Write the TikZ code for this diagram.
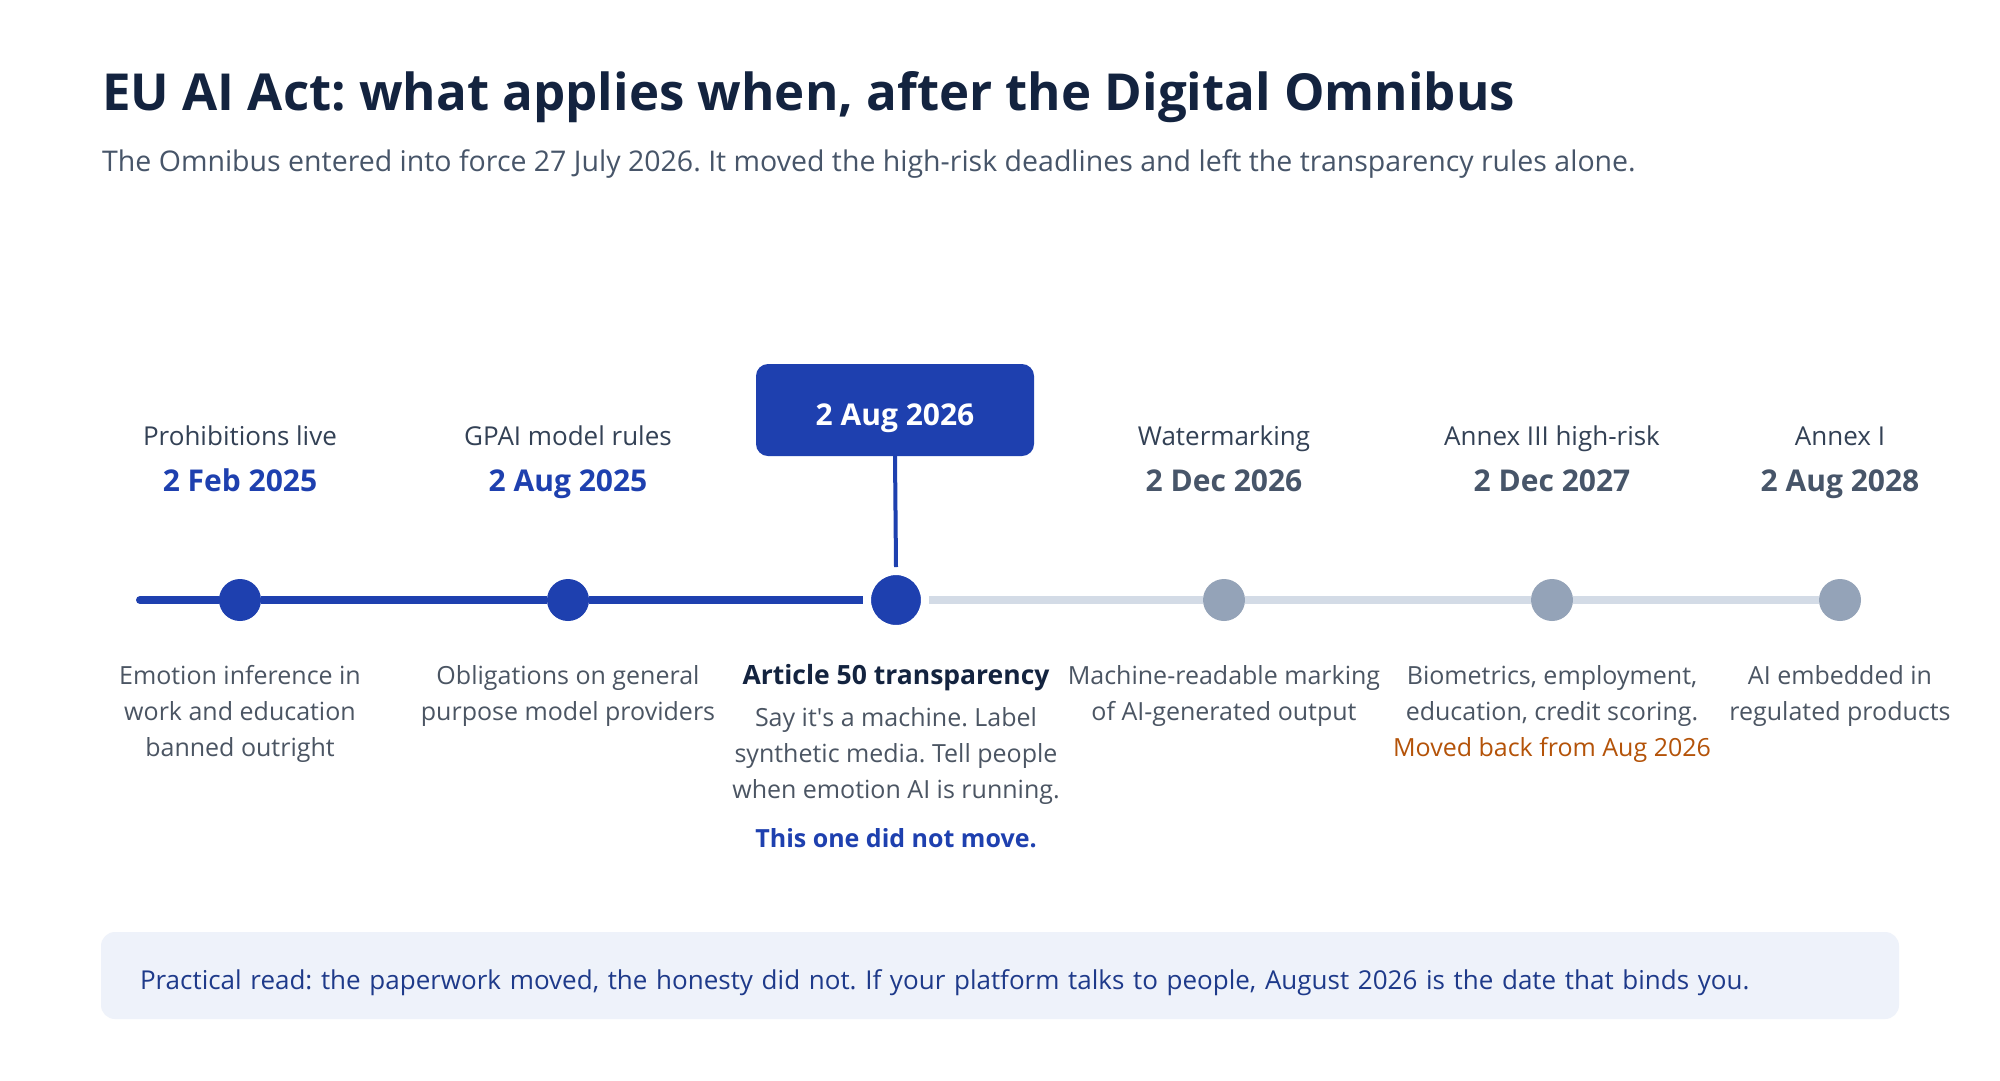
\documentclass[tikz,border=0pt]{standalone}
\usepackage{fontspec}
\setmainfont{Open Sans}
\definecolor{actblue}{HTML}{1E40AF}
\definecolor{actnavy}{HTML}{13233F}
\definecolor{actink}{HTML}{1E3A8A}
\definecolor{slatetext}{HTML}{4B5563}
\definecolor{slatelabel}{HTML}{334155}
\definecolor{slatedate}{HTML}{475569}
\definecolor{slatedot}{HTML}{94A3B8}
\definecolor{slateline}{HTML}{D3DBE6}
\definecolor{moved}{HTML}{B45309}
\definecolor{notebg}{HTML}{EEF2FA}
\usetikzlibrary{positioning}
\newcommand{\fsz}[2]{\fontsize{#1}{#2}\selectfont}
\frenchspacing

\begin{document}
\begin{tikzpicture}[x=1pt, y=-1pt,
  toplabel/.style={anchor=base, inner sep=0, font=\fsz{26}{36}, text=slatelabel},
  datedone/.style={anchor=base, inner sep=0, font=\fsz{30}{36}\bfseries, text=actblue},
  datelater/.style={datedone, text=slatedate},
  desc/.style={anchor=base, inner sep=0, font=\fsz{25}{36}, text=slatetext, align=center},
  smalldot/.style={circle, inner sep=0, minimum size=42},
  bigdot/.style={circle, inner sep=0, minimum size=58, fill=actblue, draw=white, line width=8},
  track/.style={line width=8}]
\useasboundingbox (0,0) rectangle (2000,1080);
\fill[white] (0,0) rectangle (2000,1080);

% heading
\node[anchor=base west, inner sep=0, font=\fsz{51}{60}\bfseries, text=actnavy] (title) at (102,110)
  {EU AI Act: what applies when, after the Digital Omnibus};
\node[anchor=base west, inner sep=0, font=\fsz{28.5}{34}, text=slatedate] (subtitle) at (102,171)
  {The Omnibus entered into force 27 July 2026. It moved the high-risk deadlines and left the transparency rules alone.};

% timeline
\coordinate (tstart) at (140,600);
\node[smalldot, fill=actblue] (prohib) at (240,600) {};
\node[smalldot, fill=actblue] (gpai) at (568,600) {};
\node[bigdot] (art50) at (896,600) {};
\node[smalldot, fill=slatedot] (water) at (1224,600) {};
\node[smalldot, fill=slatedot] (annex3) at (1552,600) {};
\node[smalldot, fill=slatedot] (annex1) at (1840,600) {};

\draw[track, actblue, line cap=round] (tstart) -- (prohib);
\draw[track, actblue] (prohib) -- (gpai) -- (art50);
\draw[track, slateline] (art50) -- (water) -- (annex3) -- (annex1);

% the date that did not move
\node[fill=actblue, rounded corners=12, minimum width=278, minimum height=92, inner sep=0,
      text height=30, text depth=0, text=white, font=\fsz{30}{36}\bfseries] (nowbox) at (895,410) {2 Aug 2026};
\draw[actblue, line width=4] (nowbox.south) -- (art50.north);

% labels above
\node[toplabel] (prohibname) at (240,445) {Prohibitions live};
\node[datedone] (prohibdate) at (240,491) {2 Feb 2025};
\node[toplabel] (gpainame) at (568,445) {GPAI model rules};
\node[datedone] (gpaidate) at (568,491) {2 Aug 2025};
\node[toplabel] (watername) at (1224,445) {Watermarking};
\node[datelater] (waterdate) at (1224,491) {2 Dec 2026};
\node[toplabel] (annex3name) at (1552,445) {Annex III high-risk};
\node[datelater] (annex3date) at (1552,491) {2 Dec 2027};
\node[toplabel] (annex1name) at (1840,445) {Annex I};
\node[datelater] (annex1date) at (1840,491) {2 Aug 2028};

% texts below (base = last line)
\node[desc] (prohibtext) at (240,756) {Emotion inference in\\work and education\\banned outright};
\node[desc] (gpaitext) at (568,720) {Obligations on general\\purpose model providers};
\node[anchor=base, inner sep=0, font=\fsz{26.5}{36}\bfseries, text=actnavy] (art50head) at (896,684) {Article 50 transparency};
\node[desc] (art50text) at (896,798) {Say it\textquotesingle s a machine. Label\\synthetic media. Tell people\\when emotion AI is running.};
\node[anchor=base, inner sep=0, font=\fsz{25}{36}\bfseries, text=actblue] (art50note) at (896,847) {This one did not move.};
\node[desc] (watertext) at (1224,720) {Machine-readable marking\\of AI-generated output};
\node[desc] (annex3text) at (1552,756) {Biometrics, employment,\\education, credit scoring.\\\textcolor{moved}{Moved back from Aug 2026}};
\node[desc] (annex1text) at (1840,720) {AI embedded in\\regulated products};

% practical read
\node[fill=notebg, rounded corners=14, minimum width=1798, minimum height=87, inner xsep=39, inner ysep=0,
      text width=1720, align=left, text height=27, text depth=0, font=\fsz{26}{32}, text=actink] (note) at (1000,975.5)
  {Practical read: the paperwork moved, the honesty did not. If your platform talks to people, August 2026 is the date that binds you.};
\end{tikzpicture}
\end{document}
